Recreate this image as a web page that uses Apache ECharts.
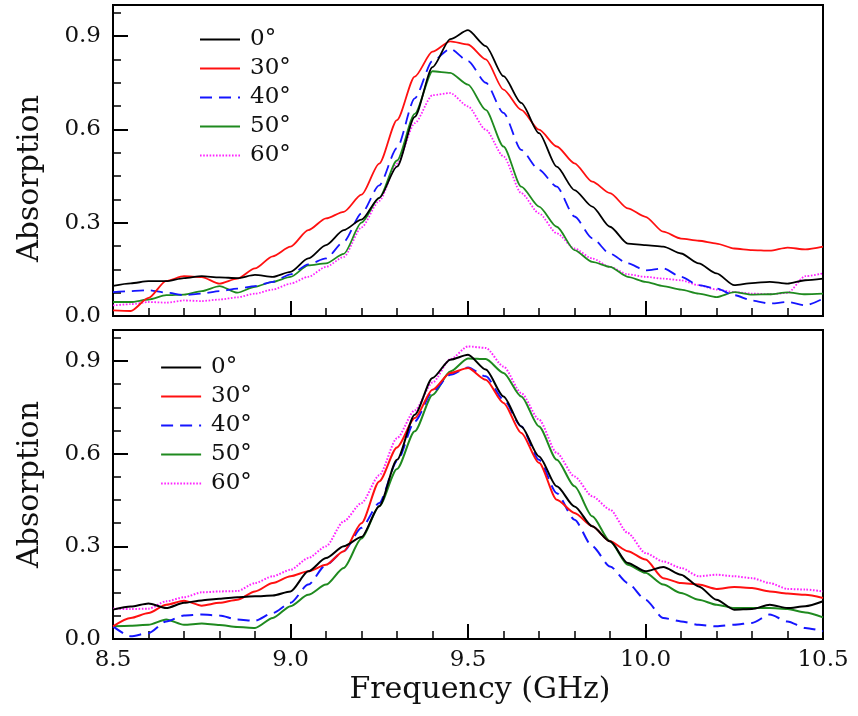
<!DOCTYPE html>
<html>
<head>
<meta charset="utf-8">
<script src="https://cdn.jsdelivr.net/npm/echarts@6/dist/echarts.min.js"></script>
<style>
html,body{margin:0;padding:0;background:#fff;}
#chart{width:858px;height:716px;}
</style>
</head>
<body>
<div id="chart"></div>
<script>
// Frequency grid (GHz)
const freq = [8.50,8.55,8.60,8.65,8.70,8.75,8.80,8.85,8.90,8.95,
              9.00,9.05,9.10,9.15,9.20,9.25,9.30,9.35,9.40,9.45,
              9.50,9.55,9.60,9.65,9.70,9.75,9.80,9.85,9.90,9.95,
              10.00,10.05,10.10,10.15,10.20,10.25,10.30,10.35,10.40,10.45,10.50];

const angleNames = ['0°','30°','40°','50°','60°'];
const xTicks = ['8.5','9.0','9.5','10.0','10.5'];
const yTicks = ['0.0','0.3','0.6','0.9'];

// ---- Top panel ----
const top0  = [0.097,0.105,0.112,0.112,0.122,0.128,0.124,0.122,0.132,0.126,
               0.142,0.185,0.228,0.276,0.310,0.380,0.480,0.640,0.800,0.890,
               0.919,0.868,0.771,0.685,0.588,0.480,0.405,0.352,0.287,0.233,
               0.228,0.223,0.201,0.169,0.137,0.099,0.106,0.110,0.104,0.115,0.120];
const top30 = [0.018,0.016,0.058,0.113,0.128,0.125,0.104,0.120,0.153,0.192,
               0.223,0.276,0.314,0.335,0.390,0.490,0.630,0.770,0.850,0.883,
               0.873,0.825,0.728,0.663,0.599,0.545,0.491,0.432,0.395,0.346,
               0.319,0.271,0.249,0.242,0.233,0.217,0.212,0.210,0.220,0.214,0.223];
const top40 = [0.077,0.080,0.083,0.075,0.067,0.072,0.080,0.088,0.096,0.110,
               0.134,0.166,0.185,0.239,0.330,0.420,0.540,0.700,0.820,0.859,
               0.820,0.750,0.653,0.534,0.470,0.416,0.320,0.250,0.200,0.169,
               0.147,0.153,0.126,0.099,0.088,0.067,0.050,0.040,0.045,0.034,0.056];
const top50 = [0.045,0.045,0.053,0.067,0.069,0.080,0.096,0.075,0.094,0.110,
               0.126,0.163,0.169,0.200,0.300,0.380,0.500,0.650,0.787,0.782,
               0.744,0.663,0.545,0.416,0.352,0.287,0.212,0.174,0.158,0.126,
               0.110,0.096,0.085,0.072,0.061,0.077,0.069,0.070,0.076,0.070,0.072];
const top60 = [0.034,0.038,0.045,0.043,0.050,0.048,0.053,0.060,0.072,0.085,
               0.104,0.126,0.158,0.190,0.285,0.370,0.490,0.620,0.710,0.717,
               0.674,0.599,0.513,0.395,0.330,0.266,0.217,0.185,0.158,0.134,
               0.126,0.120,0.115,0.099,0.085,0.077,0.072,0.070,0.074,0.128,0.137];

// ---- Bottom panel ----
const bot0  = [0.095,0.105,0.115,0.100,0.117,0.125,0.130,0.135,0.138,0.141,
               0.154,0.219,0.262,0.300,0.330,0.430,0.580,0.726,0.845,0.904,
               0.920,0.872,0.785,0.688,0.591,0.494,0.429,0.365,0.316,0.246,
               0.219,0.233,0.208,0.170,0.127,0.095,0.097,0.111,0.100,0.106,0.122];
const bot30 = [0.041,0.068,0.084,0.111,0.124,0.108,0.117,0.127,0.154,0.181,
               0.203,0.219,0.240,0.284,0.375,0.510,0.620,0.715,0.807,0.861,
               0.877,0.839,0.764,0.667,0.570,0.451,0.408,0.365,0.316,0.284,
               0.257,0.197,0.181,0.176,0.162,0.168,0.165,0.154,0.147,0.143,0.133];
const bot40 = [0.041,0.009,0.019,0.057,0.076,0.079,0.076,0.063,0.059,0.084,
               0.117,0.176,0.240,0.284,0.360,0.440,0.575,0.704,0.800,0.855,
               0.879,0.850,0.775,0.688,0.580,0.472,0.386,0.300,0.235,0.181,
               0.127,0.068,0.057,0.046,0.041,0.046,0.052,0.079,0.057,0.036,0.025];
const bot50 = [0.041,0.043,0.046,0.063,0.046,0.050,0.045,0.039,0.036,0.068,
               0.106,0.143,0.176,0.230,0.325,0.430,0.550,0.672,0.790,0.866,
               0.908,0.906,0.861,0.785,0.688,0.580,0.494,0.397,0.316,0.240,
               0.214,0.176,0.149,0.127,0.111,0.100,0.100,0.100,0.097,0.086,0.070];
const bot60 = [0.098,0.097,0.098,0.122,0.135,0.151,0.154,0.155,0.181,0.203,
               0.224,0.262,0.300,0.381,0.440,0.530,0.650,0.740,0.830,0.905,
               0.947,0.942,0.882,0.796,0.710,0.602,0.526,0.462,0.419,0.343,
               0.278,0.251,0.230,0.203,0.208,0.203,0.197,0.181,0.162,0.160,0.154];

const colors = ['#000000','#ff1010','#1515ff','#1f8a1f','#ff22ff'];
const dashes = ['solid','solid',[12,7],'solid',[1.6,1.6]];
const topSets = [top0, top30, top40, top50, top60];
const botSets = [bot0, bot30, bot40, bot50, bot60];

const FONT = 'DejaVu Serif';
const pair = arr => freq.map((f,i)=>[f, arr[i]]);

function mkSeries(sets, gi, width){
  return sets.map((vals,k)=>({
    name: angleNames[k],
    type: 'line',
    xAxisIndex: gi, yAxisIndex: gi,
    data: pair(vals),
    symbol: 'none', showSymbol: false,
    smooth: 0.25, smoothMonotone: 'x',
    lineStyle: {color: colors[k], width: width, type: dashes[k]},
    itemStyle: {color: colors[k]},
    z: 10 - k
  }));
}

function mkX(gi, showLabels){
  return {
    type: 'value', gridIndex: gi, min: 8.5, max: 10.5, interval: 0.5,
    axisLine: {show: true, onZero: false, lineStyle: {color:'#000', width: 2}},
    axisTick: {show: true, inside: true, length: 15, lineStyle: {color:'#000', width: 2}},
    minorTick: {show: true, splitNumber: 5, length: 8, lineStyle: {color:'#000', width: 1.5}},
    splitLine: {show: false},
    axisLabel: {show: showLabels, fontFamily: FONT, fontSize: 23, color: '#111', margin: 10,
                formatter: v => xTicks[Math.round((v-8.5)/0.5)] || ''},
    name: showLabels ? 'Frequency (GHz)' : '',
    nameLocation: 'middle', nameGap: 36,
    nameTextStyle: {fontFamily: FONT, fontSize: 30, color: '#111', padding: [0,0,0,24]}
  };
}
function mkY(gi, namePad){
  return {
    type: 'value', gridIndex: gi, min: 0, max: 1, interval: 0.3,
    axisLine: {show: true, onZero: false, lineStyle: {color:'#000', width: 2}},
    axisTick: {show: true, inside: true, length: 15, lineStyle: {color:'#000', width: 2}},
    minorTick: {show: true, splitNumber: 4, length: 8, lineStyle: {color:'#000', width: 1.5}},
    splitLine: {show: false},
    axisLabel: {fontFamily: FONT, fontSize: 23, color: '#111', margin: 12, showMaxLabel: false,
                formatter: v => { const i = Math.round(v/0.3); return Math.abs(v - i*0.3) < 1e-6 ? (yTicks[i]||'') : ''; }},
    name: 'Absorption', nameLocation: 'middle', nameGap: 68, nameRotate: 90,
    nameTextStyle: {fontFamily: FONT, fontSize: 30, color: '#111', padding: namePad}
  };
}

function mkLegend(left, top, width){
  return {
    orient: 'vertical', left: left, top: top, padding: 0,
    itemWidth: 40, itemHeight: 14, itemGap: 6,
    data: angleNames,
    selectedMode: false,
    itemStyle: {opacity: 0, borderWidth: 0},
    lineStyle: {width: width},
    textStyle: {fontFamily: FONT, fontSize: 23, lineHeight: 23, color: '#111', padding: [0,0,0,5]}
  };
}

const chart = echarts.init(document.getElementById('chart'), null, {renderer: 'canvas'});
chart.setOption({
  animation: false,
  backgroundColor: '#fff',
  grid: [
    {left: 113, top: 5, width: 710, height: 311, show: true, borderColor: '#000', borderWidth: 2, backgroundColor: 'transparent'},
    {left: 113, top: 330, width: 710, height: 309, show: true, borderColor: '#000', borderWidth: 2, backgroundColor: 'transparent'}
  ],
  xAxis: [mkX(0, false), mkX(1, true)],
  yAxis: [mkY(0, [0,36,0,0]), mkY(1, [0,0,0,0])],
  legend: [mkLegend(199, 28, 2), mkLegend(160, 356, 2.2)],
  series: mkSeries(topSets, 0, 1.8).concat(mkSeries(botSets, 1, 2))
});
</script>
</body>
</html>
